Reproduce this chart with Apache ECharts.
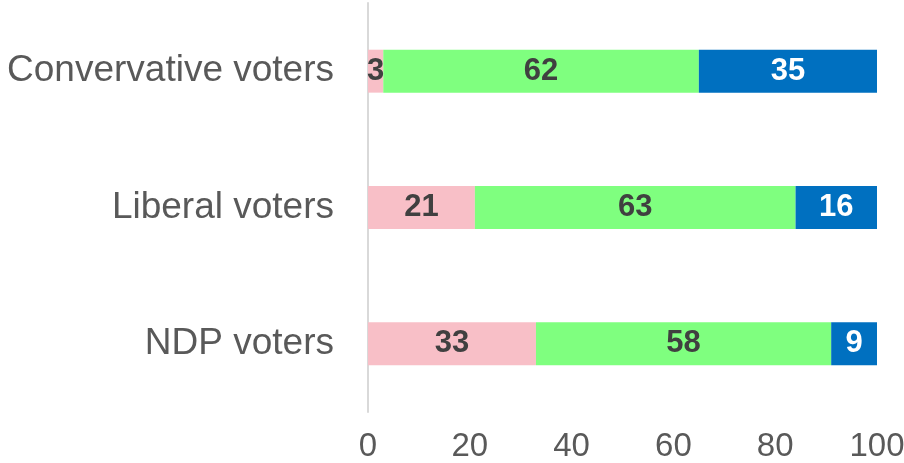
<!DOCTYPE html>
<html>
<head>
<meta charset="utf-8">
<script src="https://cdn.jsdelivr.net/npm/echarts@6/dist/echarts.min.js"></script>
<style>
html, body { margin: 0; padding: 0; background: #fff; }
#main { width: 904px; height: 463px; }
</style>
</head>
<body>
<div id="main"></div>
<script>
var categories = ['Convervative voters', 'Liberal voters', 'NDP voters'];
var pinkValues = [3, 21, 33];
var greenValues = [62, 63, 58];
var blueValues = [35, 16, 9];
var xTicks = [0, 20, 40, 60, 80, 100];

var myChart = echarts.init(document.getElementById('main'));

function barSeries(name, data, color, labelColor) {
	return {
		name: name,
		type: 'bar',
		stack: 'total',
		barWidth: '31.5%',
		data: data,
		itemStyle: { color: color },
		label: {
			show: true,
			position: 'inside',
			color: labelColor,
			fontFamily: 'Liberation Sans',
			fontWeight: 'bold',
			fontSize: 31
		}
	};
}

var option = {
	animation: false,
	grid: { left: 368, right: 27, top: 3, bottom: 51, outerBoundsMode: 'none', containLabel: false },
	xAxis: {
		type: 'value',
		min: 0,
		max: 100,
		interval: 20,
		axisLine: { show: false },
		axisTick: { show: false },
		splitLine: { show: false },
		axisLabel: {
			color: '#595959',
			fontFamily: 'Liberation Sans',
			fontSize: 33,
			margin: 18,
			formatter: function(v) { return xTicks.indexOf(v) >= 0 ? String(v) : ''; }
		}
	},
	yAxis: {
		type: 'category',
		inverse: true,
		data: categories,
		axisLine: { show: true, lineStyle: { color: '#d9d9d9', width: 2 } },
		axisTick: { show: false },
		axisLabel: {
			color: '#595959',
			fontFamily: 'Liberation Sans',
			fontSize: 37,
			margin: 34
		}
	},
	series: [
		barSeries('Pink', pinkValues, '#f8bfc7', '#404040'),
		barSeries('Green', greenValues, '#7fff7f', '#404040'),
		barSeries('Blue', blueValues, '#0070c0', '#ffffff')
	]
};

myChart.setOption(option);
</script>
</body>
</html>
